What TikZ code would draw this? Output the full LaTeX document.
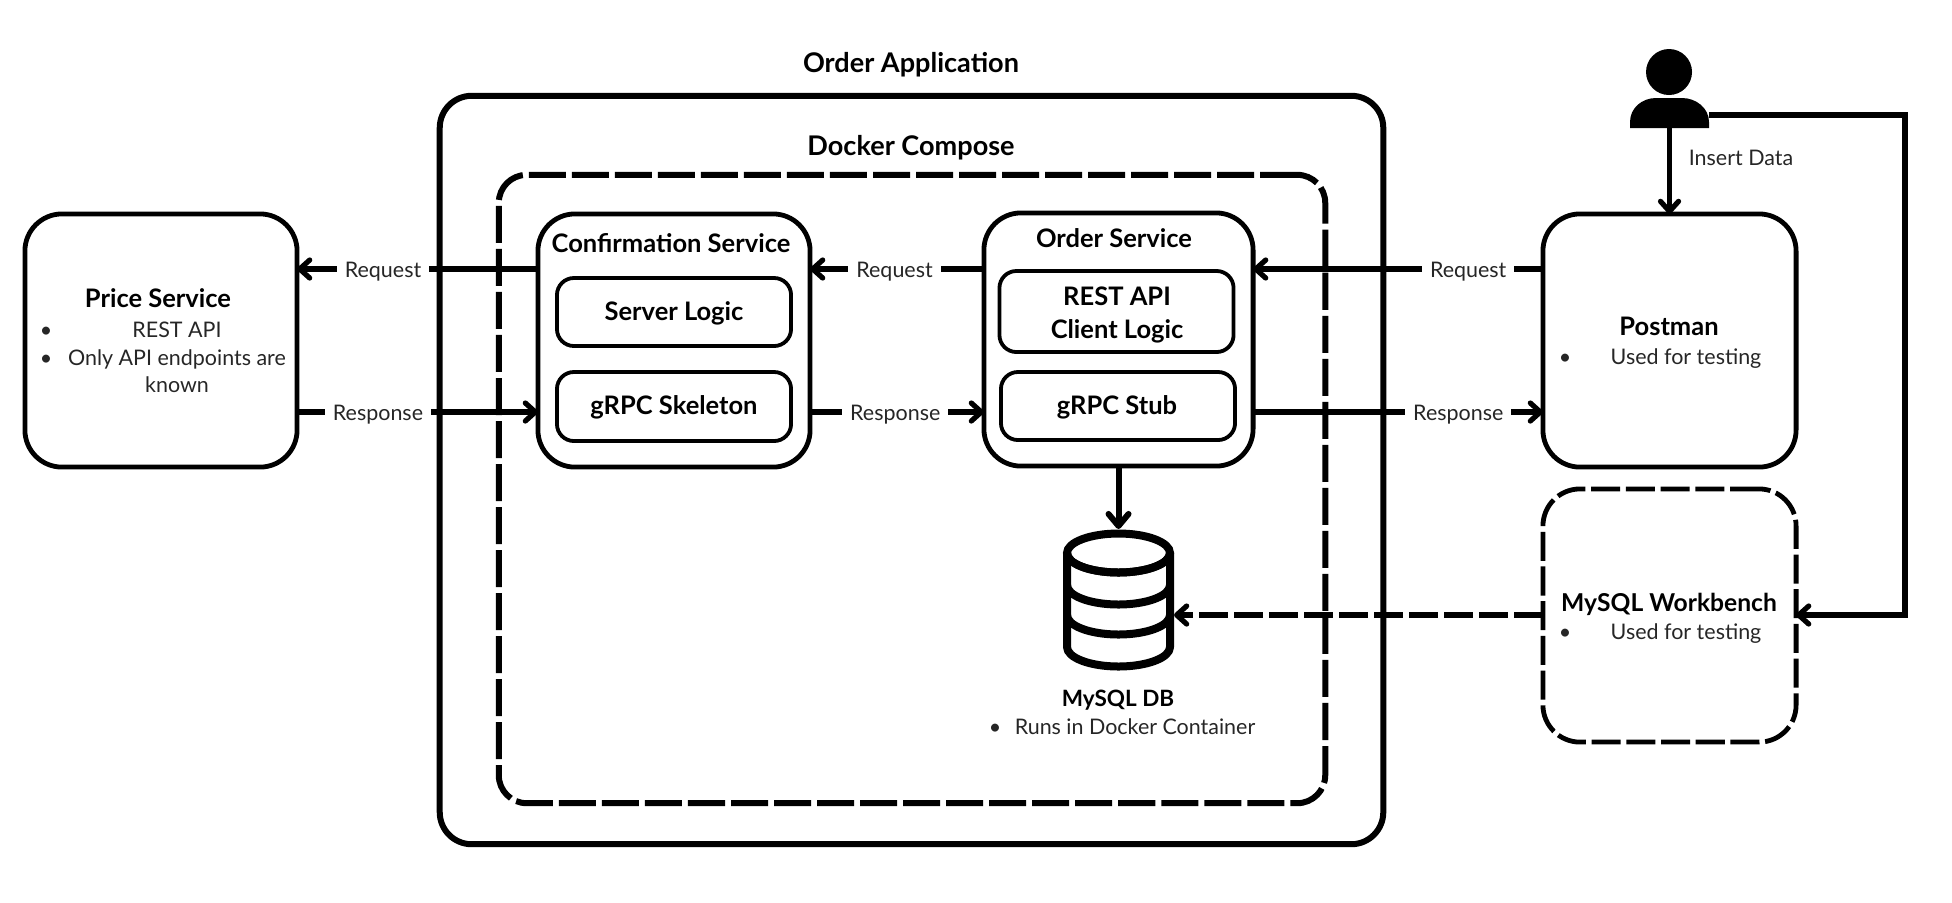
\documentclass[tikz,border=0pt]{standalone}
\usepackage{fontspec}
\setmainfont{Lato}
\usetikzlibrary{arrows.meta}
\tikzset{
	>={Straight Barb[length=0.1cm, width=0.18cm, line cap=round, line join=round]},
	flow/.style={line width=0.052cm, ->},
	dashflow/.style={flow, dash pattern=on 0.285cm off 0.065cm},
	boxbase/.style={draw, line width=0.048cm, outer sep=0pt, inner sep=0pt},
	framebox/.style={boxbase, line width=0.06cm},
	svcbox/.style={boxbase, rounded corners=0.37cm, minimum width=#1},
	logicbox/.style={boxbase, line width=0.038cm, rounded corners=0.17cm, minimum width=2.34cm},
	hidden/.style={inner sep=0pt, outer sep=0pt},
	title/.style={font=\fontsize{7.25}{9}\selectfont\bfseries, inner sep=0pt, text height=5.2pt, text depth=0pt},
	bigtitle/.style={title, font=\fontsize{7.7}{9}\selectfont\bfseries},
	smalltitle/.style={title, font=\fontsize{6.4}{8}\selectfont\bfseries},
	body/.style={font=\fontsize{6.1}{8}\selectfont, text=black!85, inner sep=0pt, text height=5pt, text depth=0pt},
	flowlabel/.style={body, fill=white, inner xsep=0.08cm, inner ysep=0.04cm},
}
\begin{document}
\begin{tikzpicture}[x=0.01cm, y=-0.01cm]
	\useasboundingbox (0, 0) rectangle (1952, 902);
	\coordinate (reqRow) at (0, 269);
	\coordinate (respRow) at (0, 412);
	\coordinate (dbRow) at (0, 615);
	\coordinate (rightRail) at (1905, 0);

	%Application and compose frames
	\node[framebox, rounded corners=0.32cm, minimum width=9.43cm, minimum height=7.48cm] (app) at (911.5, 470) {};
	\node[framebox, rounded corners=0.28cm, minimum width=8.26cm, minimum height=6.28cm, dash pattern=on 0.37cm off 0.06cm] (compose) at (912, 489) {};
	\node[bigtitle] (appTitle) at (911, 63) {Order Application};
	\node[bigtitle] (composeTitle) at (911, 146) {Docker Compose};

	%Services
	\node[svcbox=2.72cm, minimum height=2.53cm] (price) at (161, 340.5) {};
	\node[svcbox=2.72cm, minimum height=2.53cm] (conf) at (674, 340.5) {};
	\node[svcbox=2.69cm, minimum height=2.53cm] (order) at (1118.5, 339.5) {};
	\node[svcbox=2.53cm, minimum height=2.53cm] (postman) at (1669.5, 340.5) {};
	\node[svcbox=2.53cm, minimum height=2.53cm, dash pattern=on 0.29cm off 0.057cm] (bench) at (1669.5, 615.5) {};

	%Inner boxes
	\node[logicbox, minimum height=0.68cm] (server) at (674, 312) {};
	\node[logicbox, minimum height=0.69cm] (skeleton) at (674, 406.5) {};
	\node[logicbox, minimum height=0.81cm] (rest) at (1116.5, 311.5) {};
	\node[logicbox, minimum height=0.68cm] (stub) at (1118, 406) {};

	%Texts
	\node[title] (confTitle) at (671, 243) {Confirmation Service};
	\node[title] (serverText) at (674, 311) {Server Logic};
	\node[title] (skeletonText) at (674, 405) {gRPC Skeleton};
	\node[title] (orderTitle) at (1114, 238) {Order Service};
	\node[title] (restText) at (1117, 296) {REST API};
	\node[title] (clientText) at (1117, 329) {Client Logic};
	\node[title] (stubText) at (1117, 405) {gRPC Stub};

	\node[title] (priceTitle) at (158, 298) {Price Service};
	\node[body] (priceDotA) at (46, 329) {•};
	\node[body] (priceDotB) at (46, 357) {•};
	\node[body] (priceLineA) at (177, 329) {REST API};
	\node[body] (priceLineB) at (177, 357) {Only API endpoints are};
	\node[body] (priceLineC) at (177, 384) {known};

	\node[title] (postmanTitle) at (1669, 326) {Postman};
	\node[body] (postmanDot) at (1565, 356) {•};
	\node[body] (postmanLine) at (1686, 356) {Used for testing};
	\node[title, font=\fontsize{7}{9}\selectfont\bfseries] (benchTitle) at (1669, 602) {MySQL Workbench};
	\node[body] (benchDot) at (1565, 631) {•};
	\node[body] (benchLine) at (1686, 631) {Used for testing};

	%User
	\fill (1669, 72) circle (23);
	\fill (1630, 128) -- (1630, 122) .. controls (1630, 108) and (1642, 98) .. (1656, 98)
		-- (1682, 98) .. controls (1696, 98) and (1709, 108) .. (1709, 122) -- (1709, 128) -- cycle;
	\node[hidden, minimum width=0.79cm, minimum height=0.26cm] (user) at (1669.5, 115) {};

	%Database
	\node[hidden, minimum width=1.11cm, minimum height=1.42cm] (db) at (1118.5, 600) {};
	\draw[line width=0.08cm] (1118.5, 553) ellipse (51.5 and 19.5);
	\draw[line width=0.08cm, line join=round] (1067, 553) -- (1067, 647)
		arc[start angle=180, end angle=0, x radius=51.5, y radius=19.5] -- (1170, 553);
	\foreach \yArc in {553, 585, 615} {
		\draw[line width=0.08cm] (1067, \yArc) arc[start angle=180, end angle=0, x radius=51.5, y radius=19.5];
	}
	\node[smalltitle] (dbTitle) at (1118, 697) {MySQL DB};
	\node[body] (dbDot) at (995, 726) {•};
	\node[body] (dbLine) at (1135, 726) {Runs in Docker Container};

	%Connectors
	\draw[flow] (conf.west |- reqRow) -- node[flowlabel, pos=0.643] (reqLeft) {Request} (price.east |- reqRow);
	\draw[flow] (price.east |- respRow) -- node[flowlabel, pos=0.336] (respLeft) {Response} (conf.west |- respRow);
	\draw[flow] (order.west |- reqRow) -- node[flowlabel, pos=0.514] (reqMid) {Request} (conf.east |- reqRow);
	\draw[flow] (conf.east |- respRow) -- node[flowlabel, pos=0.49] (respMid) {Response} (order.west |- respRow);
	\draw[flow] (postman.west |- reqRow) -- node[flowlabel, pos=0.258] (reqRight) {Request} (order.east |- reqRow);
	\draw[flow] (order.east |- respRow) -- node[flowlabel, pos=0.708] (respRight) {Response} (postman.west |- respRow);
	\draw[flow, line width=0.06cm, {-Straight Barb[length=0.12cm, width=0.2cm, line cap=round, line join=round]}] (order.south) -- (db.north);
	\draw[dashflow] (bench.west |- dbRow) -- (db.east |- dbRow);
	\draw[flow] (user.south) -- (postman.north);
	\node[body] (insertLabel) at (1741, 157) {Insert Data};
	\draw[flow] (user.east) -| (rightRail |- dbRow) -- (bench.east |- dbRow);
\end{tikzpicture}
\end{document}
